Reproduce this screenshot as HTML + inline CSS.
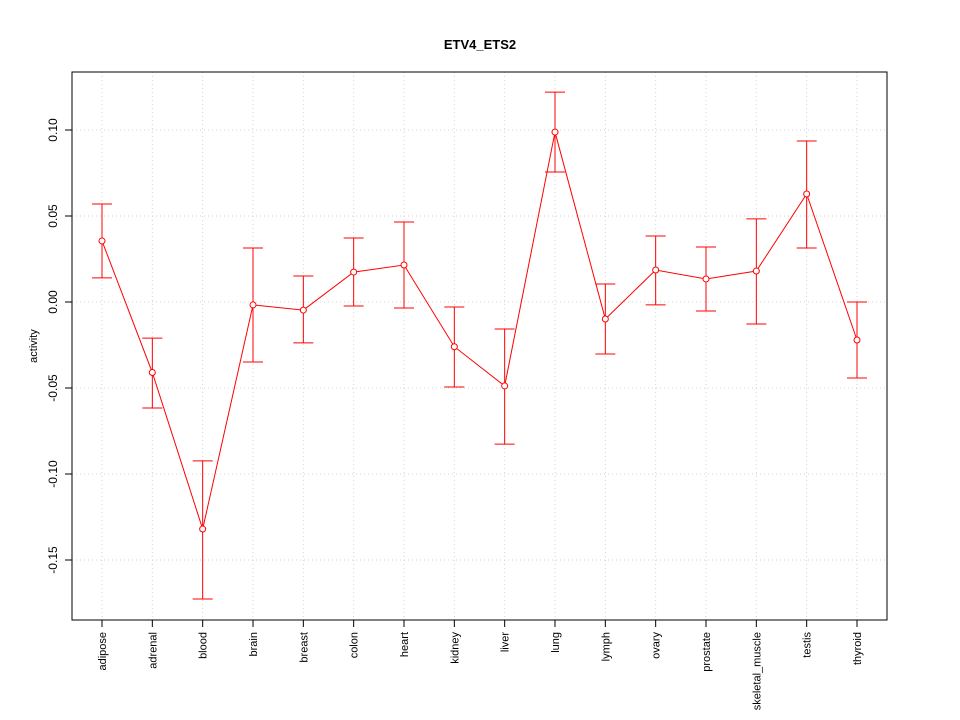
<!DOCTYPE html>
<html><head><meta charset="utf-8"><style>body{margin:0;background:#fff}svg{display:block}text{font-family:"Liberation Sans",sans-serif}</style></head>
<body>
<svg id="chart" width="960" height="720"></svg>
<script>
const categories=["adipose","adrenal","blood","brain","breast","colon","heart","kidney","liver","lung","lymph","ovary","prostate","skeletal_muscle","testis","thyroid"];
const values=[0.0355,-0.041,-0.132,-0.0017,-0.0047,0.0174,0.0215,-0.026,-0.0488,0.0988,-0.0099,0.0186,0.0134,0.018,0.0628,-0.0221];
const upper=[0.057,-0.021,-0.0924,0.0314,0.0151,0.0372,0.0465,-0.0029,-0.0157,0.122,0.0105,0.0384,0.032,0.0483,0.0936,0.0];
const lower=[0.014,-0.0616,-0.1727,-0.0349,-0.0238,-0.0023,-0.0035,-0.0494,-0.0826,0.0756,-0.0302,-0.0017,-0.0052,-0.0128,0.0314,-0.0442];
const yTicks=[-0.15,-0.10,-0.05,0.00,0.05,0.10];
const yTickLabels=["-0.15","-0.10","-0.05","0.00","0.05","0.10"];
const svg=document.getElementById('chart');
const NS='http://www.w3.org/2000/svg';
function y(v){return 302-v*1720;}
function x(i){return 102+i*(857-102)/(categories.length-1);}
function el(tag,attrs,parent){const e=document.createElementNS(NS,tag);for(const k in attrs)e.setAttribute(k,attrs[k]);(parent||svg).appendChild(e);return e;}
categories.forEach((c,i)=>{const g=el('line',{x1:x(i),x2:x(i),y1:72,y2:620,stroke:'#d3d3d3','stroke-dasharray':'1,3'});

});
yTicks.forEach(t=>{const g=el('line',{x1:72,x2:887,y1:y(t),y2:y(t),stroke:'#d3d3d3','stroke-dasharray':'1,3'});

});
const box=el('rect',{x:72,y:72,width:815,height:548,fill:'none',stroke:'#000'});


yTicks.forEach((t,i)=>{el('line',{x1:65,x2:72,y1:y(t),y2:y(t),stroke:'#000'});
const tx=el('text',{x:57,y:y(t),'font-size':12,'text-anchor':'middle',transform:`rotate(-90 57 ${y(t)})`});tx.textContent=yTickLabels[i];

});
categories.forEach((c,i)=>{el('line',{x1:x(i),x2:x(i),y1:620,y2:627,stroke:'#000'});
const tx=el('text',{x:x(i)+4,y:632,'font-size':11,'text-anchor':'end',transform:`rotate(-90 ${x(i)+4} 632)`});tx.textContent=c;

});
categories.forEach((c,i)=>{const g=el('g',{stroke:'#ff0000'});


el('line',{x1:x(i),x2:x(i),y1:y(upper[i]),y2:y(lower[i])},g);
el('line',{x1:x(i)-10,x2:x(i)+10,y1:y(upper[i]),y2:y(upper[i])},g);
el('line',{x1:x(i)-10,x2:x(i)+10,y1:y(lower[i]),y2:y(lower[i])},g);});
const pl=el('polyline',{points:values.map((v,i)=>x(i)+','+y(v)).join(' '),fill:'none',stroke:'#ff0000'});


values.forEach((v,i)=>{const p=el('circle',{cx:x(i),cy:y(v),r:3,fill:'#fff',stroke:'#ff0000'});

});
const t=el('text',{x:480,y:49,'font-size':13,'font-weight':'bold','text-anchor':'middle'});t.textContent='ETV4_ETS2';


const yl=el('text',{x:37,y:346,'font-size':11,'text-anchor':'middle',transform:'rotate(-90 37 346)'});yl.textContent='activity';


</script>
</body></html>
